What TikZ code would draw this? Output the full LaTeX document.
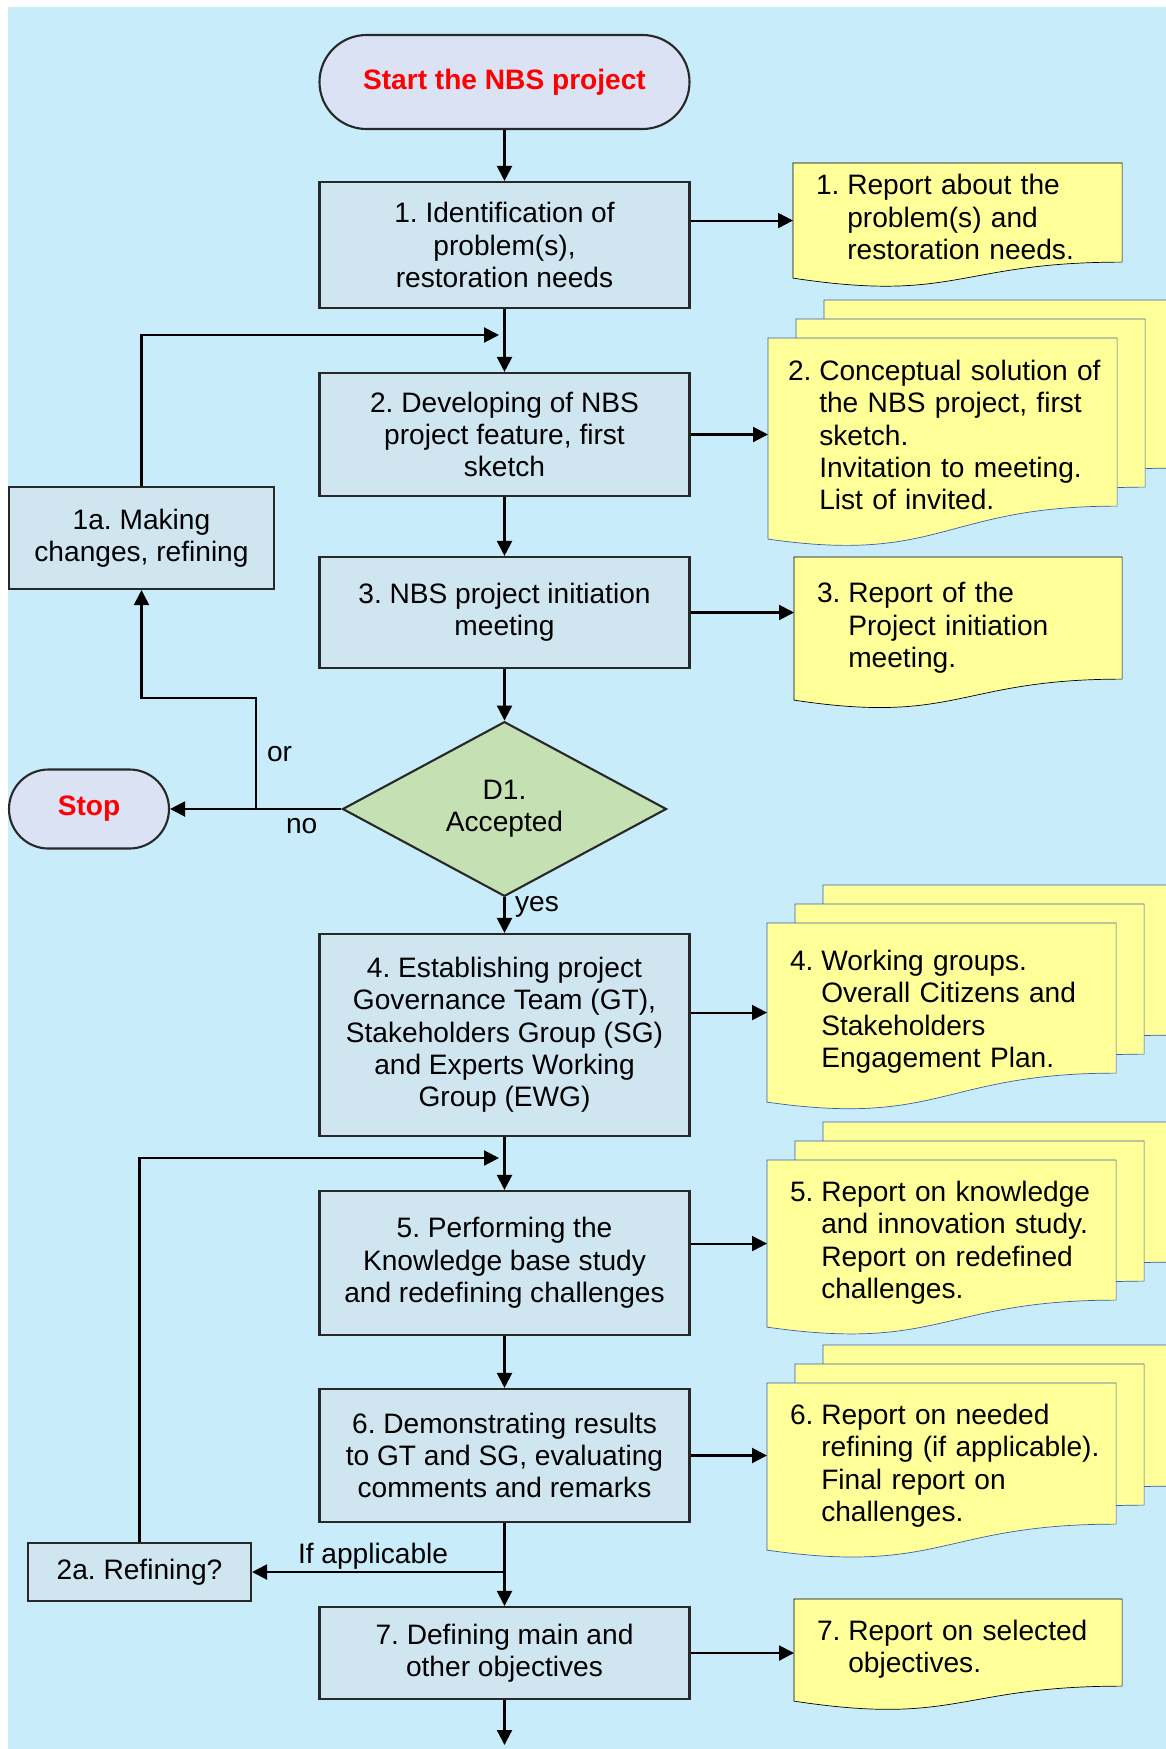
\documentclass[tikz,border=0pt]{standalone}
\usepackage{fontspec}
\setmainfont{Liberation Sans}
\usetikzlibrary{shapes.geometric,arrows.meta,backgrounds}

\definecolor{sky}{RGB}{201,236,250}
\definecolor{stepfill}{RGB}{207,229,239}
\definecolor{termfill}{RGB}{218,226,243}
\definecolor{decfill}{RGB}{197,224,179}
\definecolor{paper}{RGB}{255,255,153}
\definecolor{paperline}{RGB}{60,95,165}
\definecolor{boxline}{RGB}{40,40,40}

% number, then the indented lines of a report
\newcommand{\reportlines}[2]{\noindent\makebox[1.11em][l]{#1}\begin{tabular}[t]{@{}l@{}}#2\end{tabular}}
% paper outline with wavy bottom: style, node, rise, offset
\newcommand{\reportshape}[4]{%
  \path[#1] ([shift={#4}]#2.north west) -- ([shift={#4}]#2.north east)
    -- ([shift={#4},yshift=#3cm]#2.south east)
    .. controls ([shift={#4},yshift=#3cm]#2.south) and ([shift={#4},yshift=-0.5cm]#2.south)
    .. ([shift={#4}]#2.south west) -- cycle;}

\tikzset{
  every node/.style={font=\fontsize{16}{18.4}\selectfont},
  stepbox/.style={draw=boxline, fill=stepfill, minimum width=7.4cm, align=center, inner sep=0pt},
  terminal/.style={draw=boxline, fill=termfill, text=red, font=\fontsize{16}{18.4}\selectfont\bfseries},
  decision/.style={diamond, draw=boxline, fill=decfill, align=center, inner sep=0pt},
  report/.style={align=left, inner xsep=0.44cm, inner ysep=0pt, anchor=north west},
  paperfront/.style={fill=paper, draw=black},
  paperstack/.style={fill=paper, draw=paperline},
  tag/.style={anchor=base west, inner sep=0pt},
  >={Triangle[length=0.3cm,width=0.3cm]}
}

\begin{document}
\frenchspacing
\begin{tikzpicture}[line width=1.2pt]
\useasboundingbox (0,0) rectangle (23.32,-34.98);

% Steps
\node[terminal, minimum width=7.4cm, minimum height=1.88cm, rounded corners=0.94cm] (start) at (10.09,-1.64) {Start the NBS project};
\node[stepbox, minimum height=2.52cm] (step-1) at (10.09,-4.90) {1. Identification of\\problem(s),\\restoration needs};
\node[stepbox, minimum height=2.46cm] (step-2) at (10.09,-8.69) {2. Developing of NBS\\project feature, first\\sketch};
\node[stepbox, minimum height=2.22cm] (step-3) at (10.09,-12.25) {3. NBS project initiation\\meeting};
\node[decision, minimum width=6.48cm, minimum height=3.36cm] (d1) at (10.09,-16.18) {D1.\\Accepted};
\node[terminal, minimum width=3.2cm, minimum height=1.58cm, rounded corners=0.79cm] (stop) at (1.78,-16.18) {Stop};
\node[stepbox, minimum width=5.3cm, minimum height=2.04cm] (step-1a) at (2.83,-10.76) {1a. Making\\changes, refining};
\node[stepbox, minimum height=4.04cm] (step-4) at (10.09,-20.70) {4. Establishing project\\Governance Team (GT),\\Stakeholders Group (SG)\\and Experts Working\\Group (EWG)};
\node[stepbox, minimum height=2.88cm] (step-5) at (10.09,-25.26) {5. Performing the\\Knowledge base study\\and redefining challenges};
\node[stepbox, minimum height=2.66cm] (step-6) at (10.09,-29.11) {6. Demonstrating results\\to GT and SG, evaluating\\comments and remarks};
\node[stepbox, minimum width=4.46cm, minimum height=1.16cm] (step-2a) at (2.79,-31.44) {2a. Refining?};
\node[stepbox, minimum height=1.84cm] (step-7) at (10.09,-33.06) {7. Defining main and\\other objectives};

% Reports
\node[report, minimum width=6.54cm, text width=5.66cm, minimum height=2.26cm] (doc-1) at (15.86,-3.26) {\reportlines{1.}{Report about the\\problem(s) and\\restoration needs.}};
\node[report, inner xsep=0.38cm, minimum width=6.94cm, text width=6.18cm, minimum height=3.98cm] (doc-2) at (15.36,-6.76) {\reportlines{2.}{Conceptual solution of\\the NBS project, first\\sketch.\\Invitation to meeting.\\List of invited.}};
\node[report, minimum width=6.52cm, text width=5.64cm, minimum height=2.82cm] (doc-3) at (15.88,-11.14) {\reportlines{3.}{Report of the\\Project initiation\\meeting.}};
\node[report, minimum width=6.94cm, text width=6.06cm, minimum height=3.54cm] (doc-4) at (15.34,-18.46) {\reportlines{4.}{Working groups.\\Overall Citizens and\\Stakeholders\\Engagement Plan.}};
\node[report, minimum width=6.94cm, text width=6.06cm, minimum height=3.30cm] (doc-5) at (15.34,-23.20) {\reportlines{5.}{Report on knowledge\\and innovation study.\\Report on redefined\\challenges.}};
\node[report, minimum width=6.94cm, text width=6.06cm, minimum height=3.30cm] (doc-6) at (15.34,-27.66) {\reportlines{6.}{Report on needed\\refining (if applicable).\\Final report on\\challenges.}};
\node[report, minimum width=6.52cm, text width=5.64cm, minimum height=2.00cm] (doc-7) at (15.88,-31.98) {\reportlines{7.}{Report on selected\\objectives.}};

% Turning points
\coordinate (loop-1) at (9.98,-6.70);
\coordinate (or-split) at (5.12,-16.18);
\coordinate (or-turn) at (5.12,-13.96);
\coordinate (loop-2) at (9.98,-23.16);
\coordinate (refine-split) at (10.09,-31.44);
\coordinate (flow-end) at (10.09,-34.90);

% Labels
\node[tag] (or-label) at (5.32,-15.22) {or};
\node[tag] (no-label) at (5.70,-16.66) {no};
\node[tag] (yes-label) at (10.28,-18.22) {yes};
\node[tag] (refine-label) at (5.94,-31.26) {If applicable};

% Main flow
\draw[->] (start) -- (step-1);
\draw[->] (step-1) -- (step-2);
\draw[->] (step-2) -- (step-3);
\draw[->] (step-3) -- (d1);
\draw[->] (d1) -- (step-4);
\draw[->] (step-4) -- (step-5);
\draw[->] (step-5) -- (step-6);
\draw[->] (step-6) -- (step-7);
\draw[->] (step-7) -- (flow-end);

% Loops back
\draw[->] (d1) -- (stop);
\draw[->] (or-split) -- (or-turn) -| (step-1a.south);
\draw[->] (step-1a.north) |- (loop-1);
\draw[->] (refine-split) -- (step-2a.east);
\draw[->] (step-2a.north) |- (loop-2);

% To the reports
\draw[->] (doc-1.west -| step-1.east) -- (doc-1.west);
\draw[->] (step-2.east) -- (step-2.east -| doc-2.west);
\draw[->] (step-3.east) -- (step-3.east -| doc-3.west);
\draw[->] (doc-4.west -| step-4.east) -- (doc-4.west);
\draw[->] (doc-5.west -| step-5.east) -- (doc-5.west);
\draw[->] (step-6.east) -- (step-6.east -| doc-6.west);
\draw[->] (step-7.east) -- (step-7.east -| doc-7.west);

% Paper and background
\begin{scope}[on background layer]
\fill[sky] (0.16,-0.14) rectangle (23.32,-34.98);
\foreach \d/\r in {doc-2/0.66, doc-4/0.58, doc-5/0.54, doc-6/0.52} {
  \reportshape{paperstack}{\d}{\r}{(1.12,0.76)}
  \reportshape{paperstack}{\d}{\r}{(0.56,0.38)}
  \reportshape{paperstack}{\d}{\r}{(0,0)}
}
\reportshape{paperfront}{doc-1}{0.32}{(0,0)}
\reportshape{paperfront}{doc-3}{0.42}{(0,0)}
\reportshape{paperfront}{doc-7}{0.30}{(0,0)}
\end{scope}
\end{tikzpicture}
\end{document}
